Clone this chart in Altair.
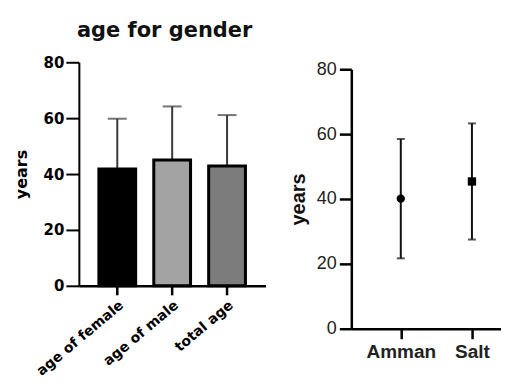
import altair as alt
import pandas as pd

# ---- data ----
groups = ["age of female", "age of male", "total age"]
group_mean = [41.8, 45.0, 42.9]
group_sd = [18.0, 19.2, 18.2]
group_fill = ["#000000", "#a3a3a3", "#7c7c7c"]

cities = ["Amman", "Salt"]
city_mean = [40.1, 45.4]
city_sd = [18.4, 17.9]
city_shape = ["circle", "square"]

left_df = pd.DataFrame({"g": groups, "m": group_mean, "sd": group_sd})
left_df["hi"] = left_df["m"] + left_df["sd"]
right_df = pd.DataFrame({"c": cities, "m": city_mean, "sd": city_sd})
right_df["lo"] = right_df["m"] - right_df["sd"]
right_df["hi"] = right_df["m"] + right_df["sd"]

# ---- layout constants ----
T = 55                     # page y of both panel origins
L_TOP, L_BOT = 60, 284     # page y of 80 and 0 (left)
R_TOP, R_BOT = 67, 327     # page y of 80 and 0 (right)
LH = L_BOT - T
RH = R_BOT - T

FB = "DejaVu Sans"
FR = "Liberation Sans"

xl = alt.X("g:N", sort=groups, title=None,
           scale=alt.Scale(paddingInner=0.33, paddingOuter=0.365),
           axis=alt.Axis(labelAngle=320, labelFont=FB, labelFontWeight="bold",
                         labelFontSize=14, labelColor="#000", tickSize=9,
                         tickWidth=2.5, tickColor="#000", domainColor="#000",
                         domainWidth=2.5, labelPadding=3))
yl = alt.Y("m:Q", title="years",
           scale=alt.Scale(domain=[0, 80], range=[LH, L_TOP - T], nice=False),
           axis=alt.Axis(values=[0, 20, 40, 60, 80], grid=False, tickSize=13,
                         tickWidth=2, tickColor="#000", domainColor="#000",
                         domainWidth=2, labelFont=FB, labelFontWeight="bold",
                         labelFontSize=15, labelColor="#000", labelPadding=2,
                         titleFont=FB, titleFontSize=16, titleFontWeight="bold",
                         titleColor="#000", titlePadding=14))

err_l = alt.Chart(left_df).mark_rule(color="#3a3a3a", strokeWidth=2).encode(
    x=xl, y=yl, y2="hi:Q")
cap_l = alt.Chart(left_df).mark_tick(color="#3a3a3a", size=19, thickness=2).encode(
    x=xl, y=alt.Y("hi:Q", scale=alt.Scale(domain=[0, 80], range=[LH, L_TOP - T], nice=False)))
bars = alt.Chart(left_df).mark_bar(stroke="#000", strokeWidth=3).encode(
    x=xl, y=yl,
    color=alt.Color("g:N", scale=alt.Scale(domain=groups, range=group_fill), legend=None))

left = alt.layer(err_l, bars, cap_l).properties(width=187, height=LH)

xr = alt.X("c:N", sort=cities, title=None,
           scale=alt.Scale(type="point", padding=0.552, align=0.63),
           axis=alt.Axis(labelAngle=0, labelFont=FR, labelFontWeight="bold",
                         labelFontSize=19, labelColor="#222", tickSize=10,
                         tickWidth=2.5, tickColor="#000", domainColor="#000",
                         domainWidth=2.5, labelPadding=4))
yscale_r = alt.Scale(domain=[0, 80], range=[RH, R_TOP - T], nice=False)
yr = alt.Y("m:Q", title="years", scale=yscale_r,
           axis=alt.Axis(values=[0, 20, 40, 60, 80], grid=False, tickSize=12,
                         tickWidth=2.5, tickColor="#000", domainColor="#000",
                         domainWidth=2.5, labelFont=FR, labelFontSize=18,
                         labelColor="#222", labelPadding=3,
                         titleFont=FR, titleFontSize=20, titleFontWeight="bold",
                         titleColor="#111", titlePadding=8))

err_r = alt.Chart(right_df).mark_rule(color="#111", strokeWidth=2).encode(
    x=xr, y=alt.Y("lo:Q", scale=yscale_r), y2="hi:Q")
cap_lo = alt.Chart(right_df).mark_tick(color="#111", size=8, thickness=2).encode(
    x=xr, y=alt.Y("lo:Q", scale=yscale_r))
cap_hi = alt.Chart(right_df).mark_tick(color="#111", size=8, thickness=2).encode(
    x=xr, y=alt.Y("hi:Q", scale=yscale_r))
pts = alt.Chart(right_df).mark_point(filled=True, opacity=1, color="#000", size=70).encode(
    x=xr, y=yr,
    shape=alt.Shape("c:N", scale=alt.Scale(domain=cities, range=city_shape), legend=None))

right = alt.layer(err_r, cap_lo, cap_hi, pts).properties(width=150, height=RH)

chart = alt.hconcat(left, right, spacing=22).properties(
    title=alt.TitleParams("age for gender", font=FB, fontSize=21, fontWeight="bold",
                          color="#111", anchor="start", dx=64, offset=14),
    padding={"left": 5, "top": 12, "right": 0, "bottom": 0},
).configure_view(strokeWidth=0)

chart.save("out.html", embed_options={"renderer": "svg", "actions": False})
